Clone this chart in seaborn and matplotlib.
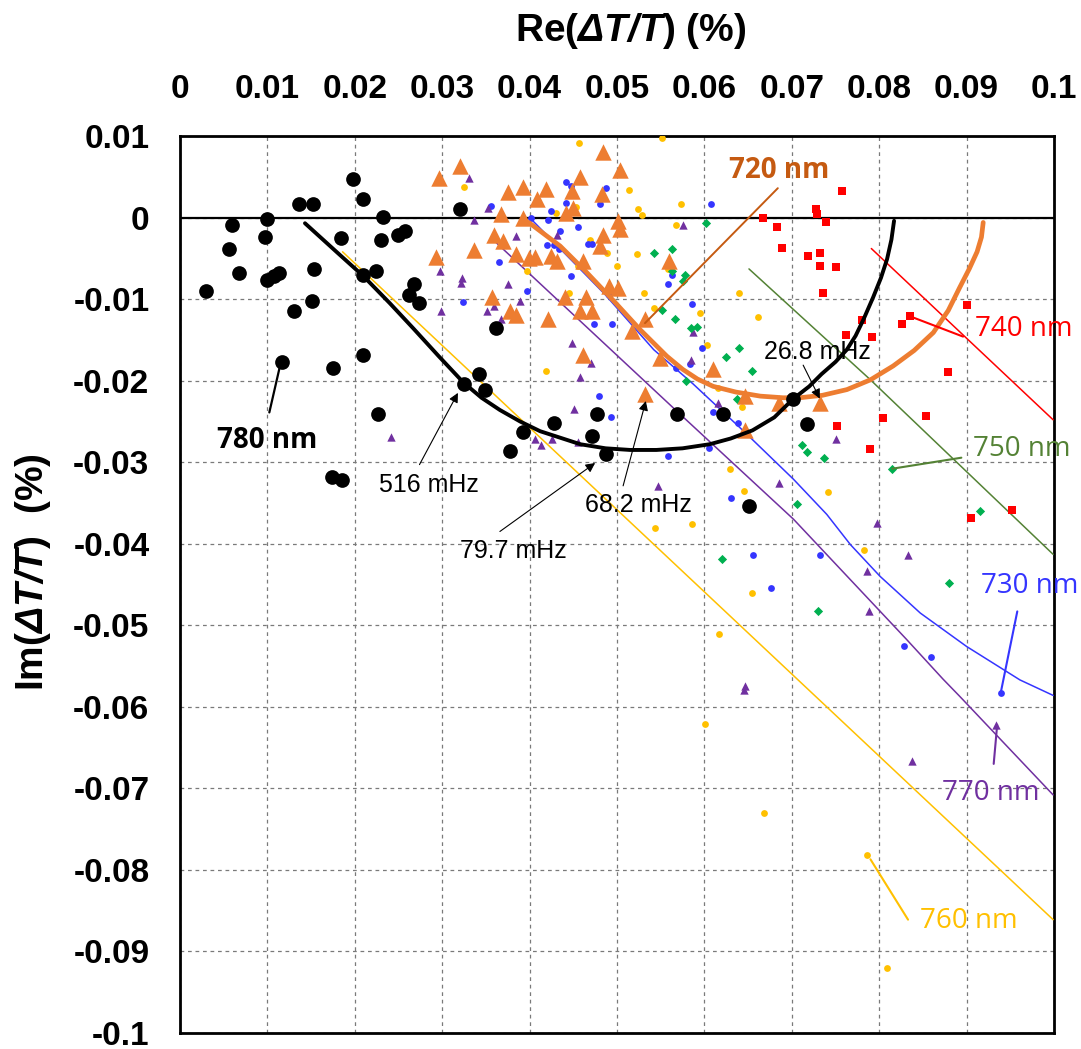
import matplotlib
matplotlib.use("Agg")
import matplotlib.pyplot as plt
import seaborn as sns
import numpy as np

# ---------------- data (Re, Im of dT/T in %) ----------------
x_ticks = [0.0, 0.01, 0.02, 0.03, 0.04, 0.05, 0.06, 0.07, 0.08, 0.09, 0.1]
x_tick_labels = ["0", "0.01", "0.02", "0.03", "0.04", "0.05", "0.06", "0.07", "0.08", "0.09", "0.1"]
y_ticks = [0.01, 0.0, -0.01, -0.02, -0.03, -0.04, -0.05, -0.06, -0.07, -0.08, -0.09, -0.1]
y_tick_labels = ["0.01", "0", "-0.01", "-0.02", "-0.03", "-0.04", "-0.05", "-0.06", "-0.07", "-0.08", "-0.09", "-0.1"]

# 780 nm (black circles)
x780 = [0.0030, 0.0060, 0.0056, 0.0068, 0.0100, 0.0097, 0.0099, 0.0107, 0.0113, 0.0136, 0.0152, 0.0153,
        0.0151, 0.0130, 0.0117, 0.0184, 0.0198, 0.0209, 0.0232, 0.0230, 0.0249, 0.0258, 0.0209, 0.0224,
        0.0268, 0.0262, 0.0273, 0.0209, 0.0175, 0.0227, 0.0320, 0.0325, 0.0342, 0.0349, 0.0174, 0.0185,
        0.0393, 0.0378, 0.0428, 0.0471, 0.0361, 0.0477, 0.0487, 0.0569, 0.0621, 0.0701, 0.0717, 0.0651]
y780 = [-0.0090, -0.0009, -0.0039, -0.0068, -0.0002, -0.0024, -0.0077, -0.0072, -0.0068, 0.0017, 0.0017, -0.0063,
        -0.0102, -0.0115, -0.0177, -0.0025, 0.0047, 0.0023, 0.0001, -0.0028, -0.0021, -0.0016, -0.0070, -0.0066,
        -0.0082, -0.0095, -0.0105, -0.0169, -0.0185, -0.0241, 0.0010, -0.0204, -0.0192, -0.0211, -0.0318, -0.0322,
        -0.0263, -0.0286, -0.0252, -0.0268, -0.0136, -0.0241, -0.0290, -0.0241, -0.0241, -0.0222, -0.0253, -0.0354]

# 720 nm (orange triangles)
x720 = [0.0296, 0.0320, 0.0293, 0.0336, 0.0357, 0.0378, 0.0385, 0.0367, 0.0375, 0.0392, 0.0359, 0.0370,
        0.0393, 0.0409, 0.0419, 0.0384, 0.0399, 0.0406, 0.0425, 0.0431, 0.0421, 0.0441, 0.0442, 0.0450,
        0.0448, 0.0458, 0.0484, 0.0503, 0.0483, 0.0501, 0.0503, 0.0484, 0.0480, 0.0461, 0.0465, 0.0458,
        0.0471, 0.0491, 0.0501, 0.0461, 0.0517, 0.0532, 0.0549, 0.0532, 0.0559, 0.0610, 0.0647, 0.0685,
        0.0732, 0.0647]
y720 = [0.0049, 0.0063, -0.0048, -0.0040, -0.0098, -0.0115, -0.0119, 0.0004, 0.0031, 0.0037, -0.0021, -0.0029,
        0.0000, 0.0023, 0.0035, -0.0045, -0.0049, -0.0048, -0.0047, -0.0053, -0.0124, -0.0098, 0.0006, 0.0012,
        0.0033, 0.0050, 0.0080, 0.0058, 0.0029, -0.0004, -0.0014, -0.0021, -0.0035, -0.0053, -0.0098, -0.0115,
        -0.0115, -0.0084, -0.0086, -0.0169, -0.0139, -0.0125, -0.0172, -0.0217, -0.0053, -0.0186, -0.0219, -0.0227,
        -0.0227, -0.0260]

# 730 nm (blue dots)
x730 = [0.0356, 0.0365, 0.0324, 0.0397, 0.0402, 0.0425, 0.0421, 0.0435, 0.0420, 0.0428, 0.0434, 0.0442,
        0.0447, 0.0458, 0.0442, 0.0455, 0.0467, 0.0471, 0.0447, 0.0487, 0.0480, 0.0491, 0.0474, 0.0494,
        0.0479, 0.0493, 0.0558, 0.0563, 0.0586, 0.0597, 0.0568, 0.0583, 0.0608, 0.0610, 0.0638, 0.0558,
        0.0605, 0.0631, 0.0656, 0.0676, 0.0732, 0.0828, 0.0859, 0.0939]
y730 = [0.0014, -0.0055, -0.0104, -0.0090, 0.0000, 0.0008, -0.0003, -0.0016, -0.0034, -0.0034, -0.0039, 0.0044,
        0.0039, 0.0045, 0.0018, -0.0012, -0.0032, -0.0032, -0.0072, 0.0036, 0.0016, -0.0095, -0.0130, -0.0130,
        -0.0219, -0.0245, -0.0082, -0.0070, -0.0106, -0.0160, -0.0185, -0.0180, 0.0017, -0.0239, -0.0252, -0.0292,
        -0.0282, -0.0344, -0.0414, -0.0454, -0.0414, -0.0525, -0.0539, -0.0583]

# 740 nm (red squares)
x740 = [0.0757, 0.0728, 0.0729, 0.0739, 0.0667, 0.0683, 0.0689, 0.0718, 0.0732, 0.0732, 0.0750, 0.0736,
        0.0780, 0.0762, 0.0792, 0.0826, 0.0835, 0.0900, 0.0879, 0.0804, 0.0854, 0.0752, 0.0789, 0.0905, 0.0952]
y740 = [0.0033, 0.0010, 0.0004, -0.0005, 0.0000, -0.0012, -0.0037, -0.0047, -0.0043, -0.0059, -0.0061, -0.0093,
        -0.0126, -0.0144, -0.0147, -0.0130, -0.0121, -0.0107, -0.0189, -0.0246, -0.0243, -0.0256, -0.0284, -0.0369, -0.0359]

# 750 nm (green diamonds)
x750 = [0.0602, 0.0563, 0.0542, 0.0563, 0.0578, 0.0575, 0.0551, 0.0566, 0.0585, 0.0592, 0.0579, 0.0640,
        0.0625, 0.0654, 0.0637, 0.0712, 0.0717, 0.0737, 0.0815, 0.0706, 0.0915, 0.0620, 0.0880, 0.0730]
y750 = [-0.0007, -0.0038, -0.0044, -0.0066, -0.0071, -0.0078, -0.0113, -0.0125, -0.0135, -0.0134, -0.0200, -0.0160,
        -0.0171, -0.0188, -0.0223, -0.0279, -0.0288, -0.0295, -0.0308, -0.0351, -0.0360, -0.0419, -0.0448, -0.0482]

# 760 nm (yellow dots)
x760 = [0.0325, 0.0456, 0.0552, 0.0514, 0.0524, 0.0529, 0.0573, 0.0567, 0.0430, 0.0453, 0.0469, 0.0489,
        0.0500, 0.0523, 0.0455, 0.0397, 0.0445, 0.0531, 0.0542, 0.0595, 0.0603, 0.0419, 0.0558, 0.0640,
        0.0661, 0.0616, 0.0643, 0.0629, 0.0645, 0.0741, 0.0544, 0.0586, 0.0783, 0.0654, 0.0617, 0.0601,
        0.0668, 0.0786, 0.0809]
y760 = [0.0038, 0.0091, 0.0097, 0.0034, 0.0010, 0.0003, 0.0017, -0.0009, 0.0005, 0.0013, -0.0028, -0.0044,
        -0.0060, -0.0045, -0.0059, -0.0066, -0.0092, -0.0092, -0.0111, -0.0117, -0.0156, -0.0188, -0.0063, -0.0092,
        -0.0122, -0.0209, -0.0232, -0.0308, -0.0335, -0.0337, -0.0381, -0.0376, -0.0408, -0.0461, -0.0511, -0.0621,
        -0.0730, -0.0782, -0.0920]

# 770 nm (purple triangles)
x770 = [0.0331, 0.0336, 0.0297, 0.0323, 0.0322, 0.0299, 0.0352, 0.0384, 0.0431, 0.0375, 0.0389, 0.0351,
        0.0359, 0.0367, 0.0448, 0.0470, 0.0458, 0.0451, 0.0576, 0.0587, 0.0585, 0.0615, 0.0751, 0.0241,
        0.0406, 0.0413, 0.0426, 0.0455, 0.0547, 0.0685, 0.0798, 0.0833, 0.0786, 0.0788, 0.0645, 0.0646,
        0.0838, 0.0934]
y770 = [0.0049, -0.0003, -0.0065, -0.0074, -0.0080, -0.0114, 0.0012, -0.0023, -0.0021, -0.0081, -0.0102, -0.0114,
        -0.0108, -0.0125, -0.0154, -0.0178, -0.0196, -0.0235, -0.0009, -0.0140, -0.0175, -0.0228, -0.0272, -0.0269,
        -0.0271, -0.0279, -0.0272, -0.0275, -0.0329, -0.0325, -0.0375, -0.0414, -0.0434, -0.0482, -0.0579, -0.0575,
        -0.0667, -0.0622]

# fitted curves
fit780_x = [0.0143, 0.0180, 0.0210, 0.0240, 0.0267, 0.0296, 0.0324, 0.0345, 0.0366, 0.0389, 0.0412, 0.0435,
            0.0458, 0.0487, 0.0515, 0.0545, 0.0575, 0.0606, 0.0630, 0.0655, 0.0680, 0.0702, 0.0720, 0.0734,
            0.0750, 0.0763, 0.0773, 0.0782, 0.0793, 0.0802, 0.0809, 0.0814, 0.0817]
fit780_y = [-0.0007, -0.0043, -0.0072, -0.0105, -0.0136, -0.0170, -0.0202, -0.0221, -0.0236, -0.0250, -0.0262, -0.0270,
            -0.0278, -0.0283, -0.0285, -0.0285, -0.0283, -0.0278, -0.0271, -0.0261, -0.0245, -0.0222, -0.0207, -0.0192,
            -0.0177, -0.0162, -0.0145, -0.0125, -0.0098, -0.0074, -0.0051, -0.0027, -0.0004]
fit720_x = [0.0399, 0.0435, 0.0465, 0.0496, 0.0526, 0.0557, 0.0575, 0.0592, 0.0610, 0.0636, 0.0664, 0.0690,
            0.0709, 0.0735, 0.0763, 0.0790, 0.0816, 0.0840, 0.0862, 0.0879, 0.0892, 0.0903, 0.0912, 0.0917, 0.0919]
fit720_y = [-0.0006, -0.0035, -0.0067, -0.0102, -0.0137, -0.0170, -0.0186, -0.0198, -0.0207, -0.0214, -0.0219, -0.0221,
            -0.0221, -0.0218, -0.0211, -0.0199, -0.0182, -0.0163, -0.0141, -0.0114, -0.0086, -0.0063, -0.0042, -0.0024, -0.0006]
fit730_x = [0.0400, 0.0486, 0.0542, 0.0587, 0.0645, 0.0702, 0.0740, 0.0767, 0.0801, 0.0847, 0.0900, 0.0961, 0.0999]
fit730_y = [0.0000, -0.0094, -0.0162, -0.0204, -0.0262, -0.0321, -0.0364, -0.0401, -0.0440, -0.0485, -0.0526, -0.0567, -0.0586]
fit740_x = [0.0791, 0.0999]
fit740_y = [-0.0038, -0.0248]
fit750_x = [0.0651, 0.0789, 0.0999]
fit750_y = [-0.0063, -0.0198, -0.0413]
fit760_x = [0.0186, 0.0999]
fit760_y = [-0.0042, -0.0861]
fit770_x = [0.0362, 0.0566, 0.0702, 0.0831, 0.0873, 0.0892, 0.0999]
fit770_y = [-0.0031, -0.0235, -0.0370, -0.0517, -0.0566, -0.0587, -0.0708]

# ---------------- style ----------------
sns.set_style("white")
plt.rcParams["font.family"] = ["Liberation Sans", "DejaVu Sans"]
plt.rcParams["text.color"] = "black"
plt.rcParams["mathtext.fontset"] = "custom"
plt.rcParams["mathtext.rm"] = "Liberation Sans"
plt.rcParams["mathtext.it"] = "Liberation Sans:italic"
plt.rcParams["mathtext.bf"] = "Liberation Sans:bold"
plt.rcParams["mathtext.bfit"] = "Liberation Sans:italic:bold"

C_BLACK = "#000000"
C_ORANGE = "#ED7D31"
C_BROWN = "#C55A11"
C_BLUE = "#3535FF"
C_RED = "#FF0000"
C_GREEN = "#00B050"
C_DKGREEN = "#548235"
C_YELLOW = "#FFC000"
C_PURPLE = "#7030A0"

W, H = 1081, 1049
fig = plt.figure(figsize=(W / 100, H / 100), dpi=100)
L, R, T, B = 180, 1054, 136, 1033
ax = fig.add_axes([L / W, 1 - B / H, (R - L) / W, (B - T) / H])

# thin fit lines
for fx, fy, c in [(fit760_x, fit760_y, C_YELLOW), (fit770_x, fit770_y, C_PURPLE),
                  (fit730_x, fit730_y, C_BLUE), (fit750_x, fit750_y, C_DKGREEN),
                  (fit740_x, fit740_y, C_RED)]:
    sns.lineplot(x=fx, y=fy, ax=ax, color=c, lw=1.1, sort=False, estimator=None, zorder=3)

# scatter series
sns.scatterplot(x=x760, y=y760, ax=ax, color=C_YELLOW, marker="o", s=24, linewidth=0, zorder=4)
sns.scatterplot(x=x730, y=y730, ax=ax, color=C_BLUE, marker="o", s=24, linewidth=0, zorder=4)
sns.scatterplot(x=x770, y=y770, ax=ax, color=C_PURPLE, marker="^", s=36, linewidth=0, zorder=4)
sns.scatterplot(x=x750, y=y750, ax=ax, color=C_GREEN, marker="D", s=22, linewidth=0, zorder=4)
sns.scatterplot(x=x740, y=y740, ax=ax, color=C_RED, marker="s", s=26, linewidth=0, zorder=4)
sns.scatterplot(x=x720, y=y720, ax=ax, color=C_ORANGE, marker="^", s=140, linewidth=0, zorder=5)

# thick fits
sns.lineplot(x=fit720_x, y=fit720_y, ax=ax, color=C_ORANGE, lw=3.4, sort=False, estimator=None, zorder=6)
sns.lineplot(x=fit780_x, y=fit780_y, ax=ax, color=C_BLACK, lw=2.8, sort=False, estimator=None, zorder=6)

sns.scatterplot(x=x780, y=y780, ax=ax, color=C_BLACK, marker="o", s=112, linewidth=0, zorder=7)

# zero line
ax.axhline(0, color="black", lw=1.6, zorder=2)

# axes
ax.set_xlim(0, 0.1)
ax.set_ylim(-0.1, 0.01)
ax.xaxis.tick_top()
ax.set_xticks(x_ticks)
ax.set_xticklabels(x_tick_labels, fontsize=24, fontweight="bold", color="black")
ax.set_yticks(y_ticks)
ax.set_yticklabels(y_tick_labels, fontsize=24, fontweight="bold", color="black")
ax.tick_params(axis="x", length=0, pad=22, labelcolor="black")
ax.tick_params(axis="y", length=0, pad=22, labelcolor="black")
ax.grid(True, color="#7a7a7a", lw=0.9, ls=(0, (3, 3)))
ax.set_axisbelow(True)
for sp in ax.spines.values():
    sp.set_color("black")
    sp.set_linewidth(2.0)
ax.set_xlabel("")
ax.set_ylabel("")

fig.text(631 / W, 1 - 31 / H, "Re($\\mathbfit{\u0394T/T}$) (%)", fontsize=28, fontweight="bold",
         ha="center", va="center", color="black")
fig.text(33 / W, 1 - 572 / H, "Im($\\mathbfit{\u0394T/T}$)  (%)", fontsize=28, fontweight="bold",
         ha="center", va="center", rotation=90, color="black")

# ---------------- annotations ----------------
def leader(p0, p1, color, lw=1.5):
    ax.annotate("", xy=p1, xytext=p0,
                arrowprops=dict(arrowstyle="-", color=color, lw=lw, shrinkA=0, shrinkB=0),
                annotation_clip=False, zorder=8)

def arrow(p0, p1):
    ax.annotate("", xy=p1, xytext=p0,
                arrowprops=dict(arrowstyle="-|>", color="black", lw=0.8, mutation_scale=14,
                                shrinkA=0, shrinkB=0),
                annotation_clip=False, zorder=8)

nm_font = ["Open Sans", "DejaVu Sans"]

# 720 nm
ax.text(0.0685, 0.0058, "720 nm", color=C_BROWN, fontsize=20, fontweight="bold", family=nm_font,
        ha="center", va="center", zorder=9)
leader((0.0684, 0.0036), (0.0532, -0.01295), C_BROWN, lw=1.4)
# 780 nm
ax.text(0.0100, -0.0274, "780 nm", color="black", fontsize=20, fontweight="bold", family=nm_font,
        ha="center", va="center", zorder=9)
leader((0.01022, -0.0239), (0.01144, -0.0182), "black", lw=1.6)
# 740 nm
ax.text(0.0910, -0.0137, "740 nm", color=C_RED, fontsize=20, family=nm_font, ha="left", va="center", zorder=9)
leader((0.0835, -0.0121), (0.0896, -0.0146), C_RED)
# 750 nm
ax.text(0.0907, -0.0284, "750 nm", color=C_DKGREEN, fontsize=20, family=nm_font, ha="left", va="center", zorder=9)
leader((0.0815, -0.0308), (0.0894, -0.02945), C_DKGREEN)
# 730 nm
ax.text(0.0917, -0.0452, "730 nm", color=C_BLUE, fontsize=20, family=nm_font, ha="left", va="center", zorder=9)
leader((0.0939, -0.0583), (0.0958, -0.0483), C_BLUE)
# 770 nm
ax.text(0.0872, -0.0706, "770 nm", color=C_PURPLE, fontsize=20, family=nm_font, ha="left", va="center", zorder=9)
leader((0.0931, -0.0670), (0.0935, -0.0622), C_PURPLE)
# 760 nm
ax.text(0.0847, -0.0863, "760 nm", color=C_YELLOW, fontsize=20, family=nm_font, ha="left", va="center", zorder=9)
leader((0.0790, -0.0787), (0.0833, -0.0861), C_YELLOW)

# frequency labels
ax.text(0.0285, -0.0328, "516 mHz", fontsize=18, ha="center", va="center", zorder=9)
arrow((0.0274, -0.0303), (0.0318, -0.0215))
ax.text(0.0382, -0.0409, "79.7 mHz", fontsize=18, ha="center", va="center", zorder=9)
arrow((0.0366, -0.0385), (0.0475, -0.0301))
ax.text(0.0524, -0.0353, "68.2 mHz", fontsize=18, ha="center", va="center", zorder=9)
arrow((0.0507, -0.0329), (0.0533, -0.0225))
ax.text(0.0729, -0.0165, "26.8 mHz", fontsize=18, ha="center", va="center", zorder=9)
arrow((0.0713, -0.0181), (0.0732, -0.0222))

fig.savefig("out.png", dpi=100)
